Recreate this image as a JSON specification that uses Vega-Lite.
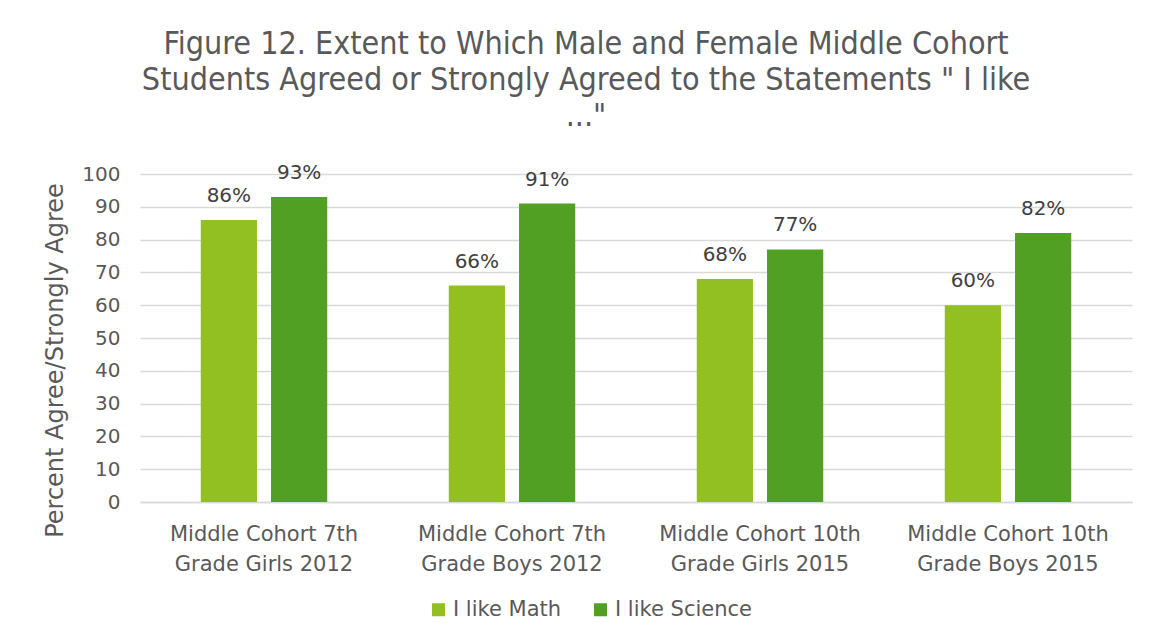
{
  "$schema": "https://vega.github.io/schema/vega-lite/v6.json",
  "autosize": "none",
  "width": 992,
  "height": 328,
  "padding": {"left": 140, "top": 174, "right": 25, "bottom": 141},
  "background": "white",
  "title": {
    "text": ["Figure 12. Extent to Which Male and Female Middle Cohort", "Students Agreed or Strongly Agreed to the Statements \" I like", "...\""],
    "font": "DejaVu Sans Condensed, Liberation Sans",
    "fontSize": 32,
    "fontWeight": "normal",
    "color": "#595959",
    "lineHeight": 36,
    "anchor": "middle",
    "dx": -50,
    "offset": 30
  },
  "data": {
    "values": [
      {"group": "Middle Cohort 7th Grade Girls  2012", "series": "I like Math", "value": 86},
      {"group": "Middle Cohort 7th Grade Girls  2012", "series": "I like Science", "value": 93},
      {"group": "Middle Cohort 7th Grade Boys  2012", "series": "I like Math", "value": 66},
      {"group": "Middle Cohort 7th Grade Boys  2012", "series": "I like Science", "value": 91},
      {"group": "Middle Cohort 10th Grade Girls  2015", "series": "I like Math", "value": 68},
      {"group": "Middle Cohort 10th Grade Girls  2015", "series": "I like Science", "value": 77},
      {"group": "Middle Cohort 10th Grade Boys  2015", "series": "I like Math", "value": 60},
      {"group": "Middle Cohort 10th Grade Boys  2015", "series": "I like Science", "value": 82}
    ]
  },
  "config": {
    "font": "DejaVu Sans",
    "view": {"stroke": null}
  },
  "encoding": {
    "x": {
      "field": "group",
      "type": "nominal",
      "sort": null,
      "scale": {"paddingInner": 0.49, "paddingOuter": 0.245},
      "axis": {
        "title": null,
        "labelAngle": 0,
        "labelFontSize": 21,
        "labelColor": "#595959",
        "labelLimit": 400,
        "labelLineHeight": 30,
        "labelPadding": 21,
        "labelExpr": "[slice(datum.label, 0, indexof(datum.label, ' Grade')), slice(datum.label, indexof(datum.label, ' Grade') + 1)]",
        "ticks": false,
        "domainColor": "#d9d9d9",
        "domainWidth": 1.5
      }
    },
    "xOffset": {
      "field": "series",
      "type": "nominal",
      "scale": {"paddingInner": 0.2, "paddingOuter": 0}
    },
    "y": {
      "field": "value",
      "type": "quantitative",
      "scale": {"domain": [0, 100]},
      "axis": {
        "title": "Percent Agree/Strongly Agree",
        "titleFontSize": 24,
        "titleFontWeight": "normal",
        "titleColor": "#595959",
        "titlePadding": 14,
        "titleY": 186,
        "values": [0, 10, 20, 30, 40, 50, 60, 70, 80, 90, 100],
        "labelFontSize": 20,
        "labelColor": "#595959",
        "labelPadding": 20,
        "ticks": false,
        "domain": false,
        "gridColor": "#d9d9d9",
        "gridWidth": 1.5
      }
    }
  },
  "layer": [
    {
      "mark": {"type": "bar"},
      "encoding": {
        "color": {
          "field": "series",
          "type": "nominal",
          "scale": {"domain": ["I like Math", "I like Science"], "range": ["#92c022", "#52a023"]},
          "legend": {
            "title": null,
            "orient": "none",
            "legendX": 288,
            "legendY": 425,
            "direction": "horizontal",
            "symbolType": "square",
            "symbolSize": 169,
            "symbolStrokeWidth": 0,
            "labelFontSize": 21,
            "labelColor": "#595959",
            "columnPadding": 28
          }
        }
      }
    },
    {
      "transform": [{"calculate": "datum.value + '%'", "as": "label"}],
      "mark": {"type": "text", "dy": -24, "fontSize": 20, "color": "#404040"},
      "encoding": {
        "text": {"field": "label", "type": "nominal"},
        "detail": {"field": "series"}
      }
    }
  ]
}
